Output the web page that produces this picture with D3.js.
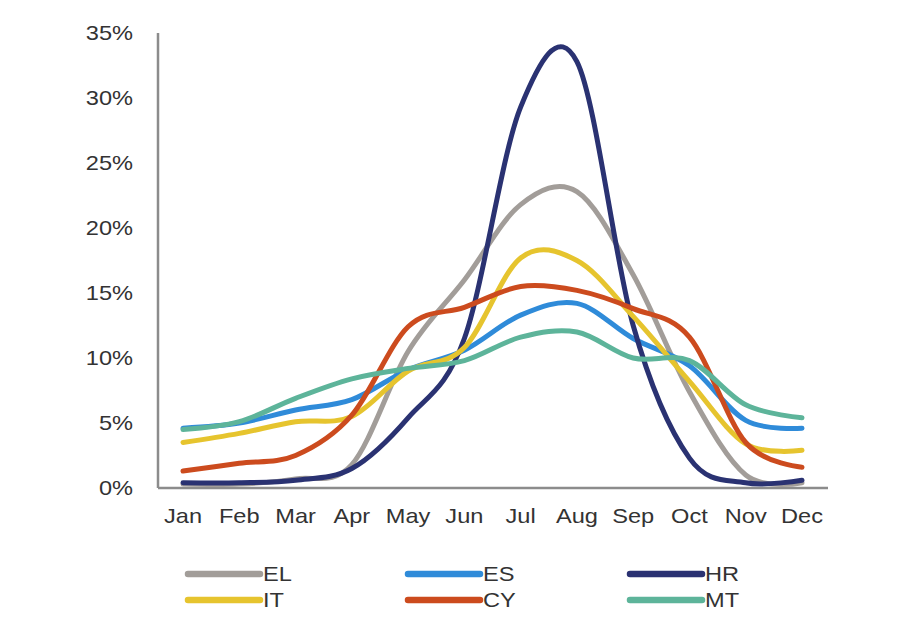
<!DOCTYPE html>
<html lang="en">
<head>
  <meta charset="utf-8">
  <title>Monthly share by country</title>
  <script src="https://d3js.org/d3.v7.min.js"></script>
  <style>
    body {
      margin: 0;
      background: #fff;
      font-family: "Liberation Sans", Arial, sans-serif;
    }
    .tick-label {
      font-size: 20px;
      fill: #333;
    }
    .legend-label {
      font-size: 20px;
      fill: #333;
    }
  </style>
</head>
<body>
  <script>
    // data (percent)
    var months = ["Jan","Feb","Mar","Apr","May","Jun","Jul","Aug","Sep","Oct","Nov","Dec"];
    var yTicks = [0, 5, 10, 15, 20, 25, 30, 35];

    var EL = [0.3, 0.3, 0.7, 1.8, 10.5, 16.0, 21.8, 22.8, 16.4, 7.4, 1.0, 0.4];
    var ES = [4.6, 5.0, 6.0, 6.8, 9.1, 10.6, 13.3, 14.2, 11.5, 9.4, 5.2, 4.6];
    var HR = [0.4, 0.4, 0.6, 1.5, 5.4, 11.5, 29.3, 32.8, 12.5, 2.3, 0.4, 0.6];
    var IT = [3.5, 4.2, 5.1, 5.5, 9.0, 10.8, 17.7, 17.5, 13.2, 8.2, 3.4, 2.9];
    var CY = [1.3, 1.9, 2.5, 5.6, 12.4, 13.9, 15.5, 15.2, 13.8, 11.6, 3.5, 1.6];
    var MT = [4.5, 5.1, 6.9, 8.4, 9.2, 9.8, 11.6, 12.0, 10.0, 9.8, 6.4, 5.4];

    var seriesNames = ["EL", "ES", "HR", "IT", "CY", "MT"];
    var seriesValues = [EL, ES, HR, IT, CY, MT];
    var seriesColors = ["#a29d99", "#2f8bd9", "#2a3272", "#e6c42e", "#cc4b1e", "#5db49a"];

    var width = 919;
    var height = 630;
    var stretch = 1.18; // text in the picture is a bit wide

    var svg = d3.select("body")
      .append("svg")
      .attr("width", width)
      .attr("height", height);

    // axis frame
    var x0 = 158, xEnd = 828;
    var y0 = 488, yTop = 33;

    var x = d3.scalePoint()
      .domain(months)
      .range([183, 802]);

    var y = d3.scaleLinear()
      .domain([0, 35])
      .range([y0, yTop]);

    // y axis labels
    svg.selectAll(".ylab")
      .data(yTicks)
      .enter()
      .append("text")
      .attr("class", "tick-label")
      .attr("transform", function(d) { return "translate(133," + y(d) + ") scale(" + stretch + ",1)"; })
      .attr("dy", "0.35em")
      .attr("text-anchor", "end")
      .text(function(d) { return d + "%"; });

    // x axis labels
    svg.selectAll(".xlab")
      .data(months)
      .enter()
      .append("text")
      .attr("class", "tick-label")
      .attr("transform", function(d) { return "translate(" + x(d) + ",523) scale(" + stretch + ",1)"; })
      .attr("text-anchor", "middle")
      .text(function(d) { return d; });

    // axis lines
    svg.append("line")
      .attr("x1", x0).attr("x2", x0)
      .attr("y1", yTop).attr("y2", y0)
      .attr("stroke", "#8c8c8c")
      .attr("stroke-width", 2.5);

    svg.append("line")
      .attr("x1", x0).attr("x2", xEnd)
      .attr("y1", y0).attr("y2", y0)
      .attr("stroke", "#8c8c8c")
      .attr("stroke-width", 2.5);

    var line = d3.line()
      .x(function(d, i) { return x(months[i]); })
      .y(function(d) { return y(d); })
      .curve(d3.curveCatmullRom.alpha(0));

    svg.selectAll(".series")
      .data(seriesValues)
      .enter()
      .append("path")
      .attr("class", "series")
      .attr("d", line)
      .attr("fill", "none")
      .attr("stroke", function(d, i) { return seriesColors[i]; })
      .attr("stroke-width", 5)
      .attr("stroke-linecap", "round")
      .attr("stroke-linejoin", "round");

    // legend, 3 columns x 2 rows
    var legendX = [188, 408, 630];
    var legendY = [574, 600];

    var leg = svg.selectAll(".legend")
      .data(seriesNames)
      .enter()
      .append("g")
      .attr("class", "legend")
      .attr("transform", function(d, i) {
        return "translate(" + legendX[i % 3] + "," + legendY[Math.floor(i / 3)] + ")";
      });

    leg.append("line")
      .attr("x1", 0).attr("x2", 72)
      .attr("y1", 0).attr("y2", 0)
      .attr("stroke", function(d, i) { return seriesColors[i]; })
      .attr("stroke-width", 6.5)
      .attr("stroke-linecap", "round");

    leg.append("text")
      .attr("class", "legend-label")
      .attr("transform", "translate(75,0) scale(" + stretch + ",1)")
      .attr("dy", "0.35em")
      .text(function(d) { return d; });
  </script>
</body>
</html>
